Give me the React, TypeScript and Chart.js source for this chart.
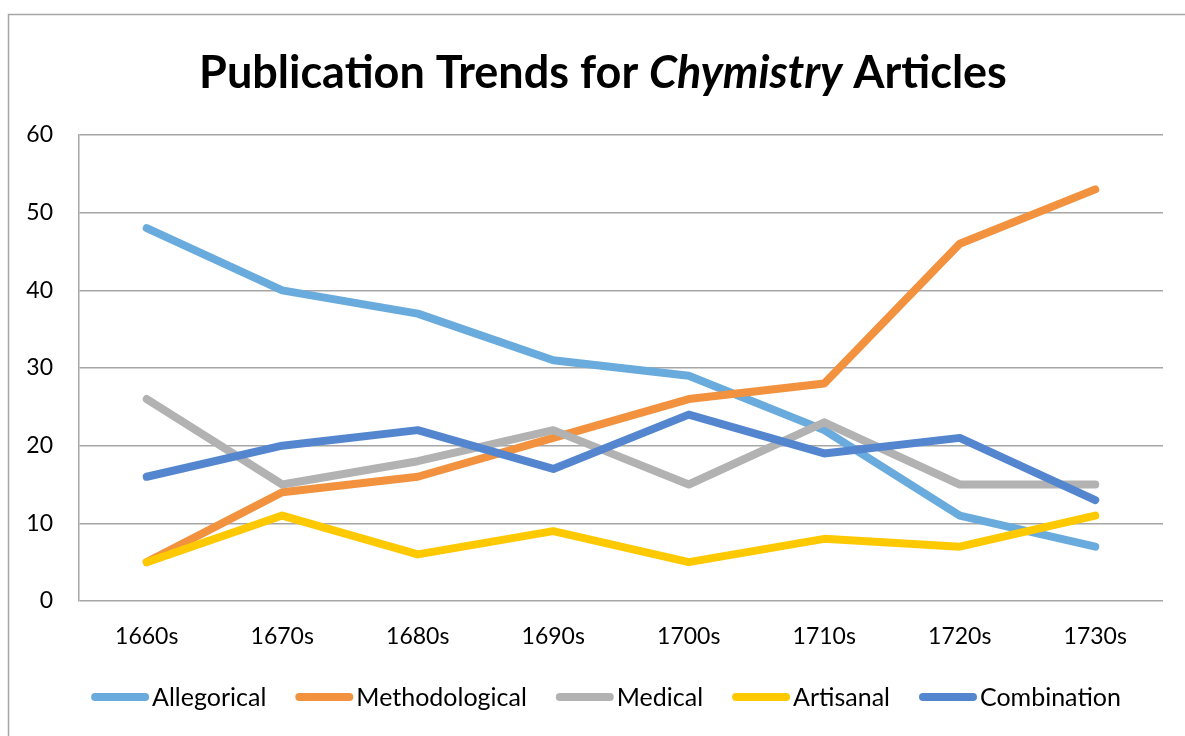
import React, { useEffect, useRef } from "react";
import { Chart, registerables } from "chart.js";

Chart.register(...registerables);

const categories = ["1660s", "1670s", "1680s", "1690s", "1700s", "1710s", "1720s", "1730s"];
const allegorical = [48, 40, 37, 31, 29, 22, 11, 7];
const methodological = [5, 14, 16, 21, 26, 28, 46, 53];
const medical = [26, 15, 18, 22, 15, 23, 15, 15];
const artisanal = [5, 11, 6, 9, 5, 8, 7, 11];
const combination = [16, 20, 22, 17, 24, 19, 21, 13];
const seriesNames = ["Allegorical", "Methodological", "Medical", "Artisanal", "Combination"];
const seriesValues = [allegorical, methodological, medical, artisanal, combination];
const seriesColors = ["#6AABDD", "#F2923F", "#B2B2B2", "#FFC900", "#5486CF"];
const titleParts = [
  { text: "Publication Trends for ", italic: false },
  { text: "Chymistry", italic: true },
  { text: " Articles", italic: false },
];
const yMin = 0;
const yMax = 60;
const yStep = 10;

const FONT = "Lato, 'Noto Sans', sans-serif";
const W = 1185;
const H = 736;

const framePlugin = {
  id: "frame",
  beforeDraw(chart: any) {
    const ctx = chart.ctx;
    ctx.save();
    ctx.fillStyle = "#ffffff";
    ctx.fillRect(0, 0, W, H);
    ctx.strokeStyle = "#A6A6A6";
    ctx.lineWidth = 1.5;
    ctx.strokeRect(8.5, 14.5, W + 20, H + 20);
    ctx.restore();
  },
};

const titlePlugin = {
  id: "mixedTitle",
  afterDraw(chart: any) {
    const ctx = chart.ctx;
    ctx.save();
    const size = 45;
    const fonts = titleParts.map((p) => `${p.italic ? "italic " : ""}bold ${size}px ${FONT}`);
    let total = 0;
    const widths = titleParts.map((p, i) => {
      ctx.font = fonts[i];
      const w = ctx.measureText(p.text).width;
      total += w;
      return w;
    });
    let x = 603 - total / 2;
    ctx.fillStyle = "#000000";
    ctx.textBaseline = "alphabetic";
    ctx.textAlign = "left";
    titleParts.forEach((p, i) => {
      ctx.font = fonts[i];
      ctx.fillText(p.text, x, 88);
      x += widths[i];
    });
    ctx.restore();
  },
};

const legendPlugin = {
  id: "customLegend",
  afterDraw(chart: any) {
    const ctx = chart.ctx;
    ctx.save();
    ctx.font = `25px ${FONT}`;
    const lineW = 58;
    const gap = 3;
    const spacing = 29;
    const y = 697;
    const widths = seriesNames.map((n) => ctx.measureText(n).width);
    let total = 0;
    widths.forEach((w) => (total += lineW + gap + w));
    total += spacing * (seriesNames.length - 1);
    let x = 606 - total / 2;
    seriesNames.forEach((n, i) => {
      ctx.strokeStyle = seriesColors[i];
      ctx.lineWidth = 8;
      ctx.lineCap = "round";
      ctx.beginPath();
      ctx.moveTo(x + 4, y);
      ctx.lineTo(x + lineW - 4, y);
      ctx.stroke();
      ctx.fillStyle = "#000000";
      ctx.textBaseline = "middle";
      ctx.textAlign = "left";
      ctx.fillText(n, x + lineW + gap, y + 1);
      x += lineW + gap + widths[i] + spacing;
    });
    ctx.restore();
  },
};

export default function App() {
  const ref = useRef<HTMLCanvasElement | null>(null);
  useEffect(() => {
    if (!ref.current) return;
    const chart = new Chart(ref.current, {
      type: "line",
      data: {
        labels: categories,
        datasets: seriesNames.map((name, i) => ({
          label: name,
          data: seriesValues[i],
          borderColor: seriesColors[i],
          backgroundColor: seriesColors[i],
          borderWidth: 8,
          borderCapStyle: "round",
          borderJoinStyle: "round",
          pointRadius: 0,
          tension: 0,
          fill: false,
          order: seriesNames.length - 1 - i,
        })),
      },
      options: {
        responsive: false,
        animation: false,
        layout: { padding: { top: 135, right: 22, bottom: 0, left: 0 } },
        plugins: {
          legend: { display: false },
          title: { display: false },
          tooltip: { enabled: false },
        },
        scales: {
          x: {
            offset: true,
            grid: { display: false, drawTicks: false },
            border: { display: false },
            ticks: { color: "#000000", font: { family: FONT, size: 23 }, padding: 22, maxRotation: 0 },
            afterFit(scale: any) {
              scale.height = 135;
            },
          },
          y: {
            min: yMin,
            max: yMax,
            grid: { color: "#A6A6A6", lineWidth: 1.5, drawTicks: false },
            border: { display: true, color: "#A6A6A6", width: 1.5 },
            ticks: { stepSize: yStep, color: "#000000", font: { family: FONT, size: 23 }, padding: 26 },
            afterFit(scale: any) {
              scale.width = 79;
            },
          },
        },
      },
      plugins: [framePlugin, titlePlugin, legendPlugin],
    });
    return () => chart.destroy();
  }, []);
  return (
    <canvas
      ref={ref}
      width={W}
      height={H}
      style={{ position: "fixed", left: 0, top: 0, width: W, height: H, display: "block" }}
    />
  );
}
